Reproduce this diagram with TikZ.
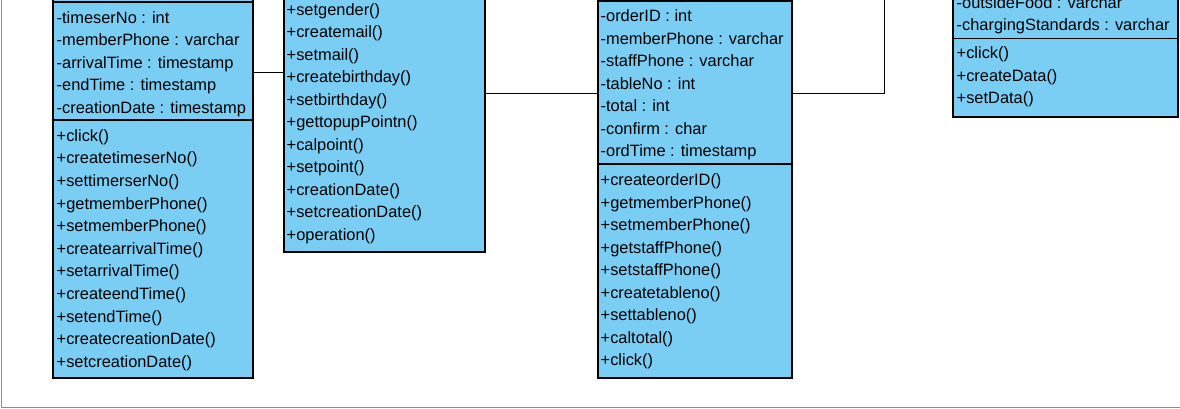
\documentclass[tikz,border=0pt]{standalone}
\usepackage{fontspec}
\setmainfont{Liberation Sans}
\definecolor{classblue}{RGB}{122,206,244}
\definecolor{framegray}{RGB}{138,140,145}

\begin{document}
\begin{tikzpicture}[x=1pt,y=-1pt,
    classbox/.style={draw,fill=classblue,line width=1.1pt,inner sep=0pt},
    member/.style={anchor=base west,inner sep=0pt,font=\fontsize{16.4}{19}\selectfont},
    link/.style={draw,line width=0.9pt}]
\useasboundingbox (0,0) rectangle (1180,409);
\clip (0,0) rectangle (1180,409);
\draw[framegray,line width=1pt] (1.5,-20) -- (1.5,407.5) -- (1200,407.5);

% classes
\node[classbox,minimum width=200pt,minimum height=612pt] (timeser) at (153,72) {};
\node[classbox,minimum width=201pt,minimum height=318pt] (memberbox) at (384.5,93) {};
\node[classbox,minimum width=194pt,minimum height=570pt] (orderbox) at (695,93) {};
\node[classbox,minimum width=225pt,minimum height=217pt] (chargebox) at (1065.5,8.5) {};

% compartments
\draw[line width=1.1pt] (timeser.west |- 0,2) -- (timeser.east |- 0,2);
\draw[line width=1.1pt] (timeser.west |- 0,120) -- (timeser.east |- 0,120);
\draw[line width=1.1pt] (orderbox.west |- 0,1) -- (orderbox.east |- 0,1);
\draw[line width=1.1pt] (orderbox.west |- 0,164) -- (orderbox.east |- 0,164);
\draw[line width=1.1pt] (chargebox.west |- 0,38.5) -- (chargebox.east |- 0,38.5);

\foreach \txt [count=\i from 0] in {-timeserNo : int,-memberPhone : varchar,-arrivalTime : timestamp,-endTime : timestamp,-creationDate : timestamp}
    \node[member] (ta\i) at (56.5,23.3+22.55*\i) {\txt};
\foreach \txt [count=\i from 0] in {+click(),+createtimeserNo(),+settimerserNo(),+getmemberPhone(),+setmemberPhone(),+createarrivalTime(),+setarrivalTime(),+createendTime(),+setendTime(),+createcreationDate(),+setcreationDate()}
    \node[member] (tm\i) at (56.5,141.3+22.6*\i) {\txt};

\foreach \txt [count=\i from 0] in {+setgender(),+createmail(),+setmail(),+createbirthday(),+setbirthday(),+gettopupPointn(),+calpoint(),+setpoint(),+creationDate(),+setcreationDate(),+operation()}
    \node[member] (mm\i) at (286.5,15.3+22.5*\i) {\txt};

\foreach \txt [count=\i from 0] in {-orderID : int,-memberPhone : varchar,-staffPhone : varchar,-tableNo : int,-total : int,-confirm : char,-ordTime : timestamp}
    \node[member] (oa\i) at (600.5,22+22.5*\i) {\txt};
\foreach \txt [count=\i from 0] in {+createorderID(),+getmemberPhone(),+setmemberPhone(),+getstaffPhone(),+setstaffPhone(),+createtableno(),+settableno(),+caltotal(),+click()}
    \node[member] (om\i) at (600.5,185.5+22.56*\i) {\txt};

\foreach \txt [count=\i from 0] in {-outsideFood : varchar,-chargingStandards : varchar}
    \node[member] (ca\i) at (956.5,8.5+22.5*\i) {\txt};
\foreach \txt [count=\i from 0] in {+click(),+createData(),+setData()}
    \node[member] (cm\i) at (956.5,59+22.5*\i) {\txt};

% associations
\coordinate (up) at (884,-20);
\path[link] (timeser.east) -- (timeser.east -| memberbox.west);
\path[link] (memberbox.east) -- (orderbox.west);
\path[link] (orderbox.east) -| (up);
\end{tikzpicture}
\end{document}
